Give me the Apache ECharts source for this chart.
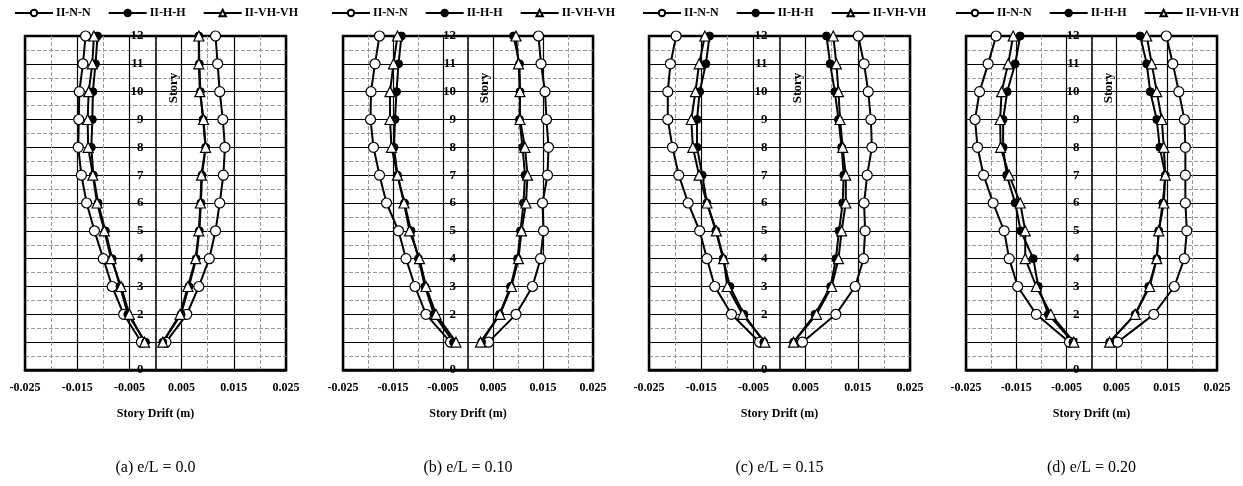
<!DOCTYPE html>
<html>
<head>
<meta charset="utf-8">
<script src="https://cdn.jsdelivr.net/npm/echarts@6/dist/echarts.min.js"></script>
<style>
html, body { margin: 0; padding: 0; background: #fff; }
#main { width: 1243px; height: 486px; }
</style>
</head>
<body>
<div id="main"></div>
<script>
const stories = [1, 2, 3, 4, 5, 6, 7, 8, 9, 10, 11, 12]
const seriesNames = ['II-N-N', 'II-H-H', 'II-VH-VH']
const captions = ['(a) e/L = 0.0', '(b) e/L = 0.10', '(c) e/L = 0.15', '(d) e/L = 0.20']

// (a) e/L = 0.0  -- values listed from story 1 up to story 12
const aNLeft = [-0.0027, -0.0061, -0.0083, -0.0100, -0.0117, -0.0132, -0.0142, -0.0148, -0.0147, -0.0146, -0.0139, -0.0134]
const aNRight = [0.0020, 0.0060, 0.0083, 0.0103, 0.0115, 0.0123, 0.0130, 0.0133, 0.0129, 0.0123, 0.0119, 0.0115]
const aHLeft = [-0.0019, -0.0053, -0.0068, -0.0083, -0.0096, -0.0110, -0.0119, -0.0123, -0.0121, -0.0120, -0.0115, -0.0111]
const aHRight = [0.0014, 0.0049, 0.0064, 0.0078, 0.0084, 0.0087, 0.0089, 0.0096, 0.0091, 0.0086, 0.0084, 0.0083]
const aVLeft = [-0.0021, -0.0050, -0.0066, -0.0085, -0.0098, -0.0112, -0.0120, -0.0129, -0.0130, -0.0128, -0.0121, -0.0118]
const aVRight = [0.0014, 0.0047, 0.0062, 0.0077, 0.0083, 0.0086, 0.0088, 0.0096, 0.0092, 0.0085, 0.0083, 0.0083]

// (b) e/L = 0.10
const bNLeft = [-0.0035, -0.0084, -0.0106, -0.0124, -0.0139, -0.0163, -0.0177, -0.0189, -0.0195, -0.0194, -0.0186, -0.0177]
const bNRight = [0.0041, 0.0096, 0.0129, 0.0145, 0.0151, 0.0149, 0.0159, 0.0161, 0.0157, 0.0154, 0.0146, 0.0141]
const bHLeft = [-0.0029, -0.0068, -0.0086, -0.0099, -0.0114, -0.0127, -0.0141, -0.0148, -0.0146, -0.0143, -0.0139, -0.0133]
const bHRight = [0.0027, 0.0063, 0.0085, 0.0099, 0.0105, 0.0111, 0.0114, 0.0109, 0.0103, 0.0104, 0.0103, 0.0091]
const bVLeft = [-0.0024, -0.0064, -0.0084, -0.0097, -0.0117, -0.0128, -0.0141, -0.0153, -0.0156, -0.0156, -0.0149, -0.0141]
const bVRight = [0.0025, 0.0064, 0.0087, 0.0101, 0.0107, 0.0116, 0.0119, 0.0114, 0.0104, 0.0104, 0.0101, 0.0096]

// (c) e/L = 0.15
const cNLeft = [-0.0038, -0.0092, -0.0124, -0.0139, -0.0153, -0.0175, -0.0193, -0.0205, -0.0214, -0.0214, -0.0209, -0.0198]
const cNRight = [0.0044, 0.0108, 0.0145, 0.0161, 0.0164, 0.0162, 0.0168, 0.0177, 0.0175, 0.0170, 0.0162, 0.0151]
const cHLeft = [-0.0030, -0.0068, -0.0095, -0.0108, -0.0122, -0.0139, -0.0148, -0.0158, -0.0158, -0.0153, -0.0141, -0.0134]
const cHRight = [0.0027, 0.0068, 0.0098, 0.0108, 0.0114, 0.0121, 0.0123, 0.0119, 0.0113, 0.0106, 0.0097, 0.0090]
const cVLeft = [-0.0028, -0.0071, -0.0100, -0.0107, -0.0121, -0.0139, -0.0154, -0.0166, -0.0169, -0.0161, -0.0154, -0.0143]
const cVRight = [0.0027, 0.0071, 0.0100, 0.0113, 0.0119, 0.0127, 0.0127, 0.0121, 0.0116, 0.0113, 0.0109, 0.0103]

// (d) e/L = 0.20
const dNLeft = [-0.0044, -0.0110, -0.0147, -0.0164, -0.0174, -0.0196, -0.0215, -0.0227, -0.0232, -0.0223, -0.0206, -0.0190]
const dNRight = [0.0052, 0.0124, 0.0165, 0.0185, 0.0190, 0.0187, 0.0187, 0.0187, 0.0185, 0.0174, 0.0162, 0.0149]
const dHLeft = [-0.0037, -0.0086, -0.0106, -0.0116, -0.0141, -0.0152, -0.0169, -0.0176, -0.0176, -0.0168, -0.0152, -0.0142]
const dHRight = [0.0036, 0.0087, 0.0114, 0.0130, 0.0134, 0.0142, 0.0147, 0.0136, 0.0130, 0.0117, 0.0110, 0.0097]
const dVLeft = [-0.0035, -0.0081, -0.0110, -0.0132, -0.0132, -0.0142, -0.0164, -0.0181, -0.0182, -0.0179, -0.0166, -0.0156]
const dVRight = [0.0036, 0.0087, 0.0116, 0.0130, 0.0134, 0.0144, 0.0147, 0.0144, 0.0140, 0.0130, 0.0120, 0.0110]

const panels = [
  [[aNLeft, aNRight], [aHLeft, aHRight], [aVLeft, aVRight]],
  [[bNLeft, bNRight], [bHLeft, bHRight], [bVLeft, bVRight]],
  [[cNLeft, cNRight], [cHLeft, cHRight], [cVLeft, cVRight]],
  [[dNLeft, dNRight], [dHLeft, dHRight], [dVLeft, dVRight]]
]

// layout of the four plot boxes (pixels)
const boxes = [
  { left: 25, width: 261, legend: 14 },
  { left: 343, width: 250, legend: 331 },
  { left: 649, width: 261, legend: 642 },
  { left: 966, width: 251, legend: 955 }
]
const boxTop = 36
const boxHeight = 334
const font = 'Liberation Serif'

const markerStyles = [
  { symbol: 'circle', symbolSize: 10, itemStyle: { color: '#fff', borderColor: '#000', borderWidth: 1.2 } },
  { symbol: 'circle', symbolSize: 8, itemStyle: { color: '#000', borderColor: '#000', borderWidth: 1 } },
  { symbol: 'triangle', symbolSize: 10, itemStyle: { color: '#fff', borderColor: '#000', borderWidth: 1.2 } }
]

let grid = []
let xAxis = []
let yAxis = []
let legend = []
let series = []
let graphic = []

boxes.forEach((b, p) => {
  grid.push({
    left: b.left, top: boxTop, width: b.width, height: boxHeight,
    show: true, borderColor: '#000', borderWidth: 2.5, backgroundColor: '#fff'
  })
  xAxis.push({
    gridIndex: p,
    type: 'value',
    min: -0.025,
    max: 0.025,
    interval: 0.01,
    name: 'Story Drift (m)',
    nameLocation: 'middle',
    nameGap: 38,
    nameTextStyle: { fontFamily: font, fontWeight: 'bold', fontSize: 12, color: '#000' },
    axisLine: { onZero: false, lineStyle: { color: '#000', width: 2.5 } },
    axisTick: { show: false },
    axisLabel: {
      fontFamily: font, fontWeight: 'bold', fontSize: 12, color: '#000', margin: 12,
      formatter: v => v.toFixed(3)
    },
    splitLine: { show: true, lineStyle: { color: '#000', width: 1.2 } },
    minorTick: { show: false, splitNumber: 2 },
    minorSplitLine: { show: true, lineStyle: { color: '#9a9a9a', type: 'dashed', width: 1 } }
  })
  // story axis sits on drift = 0, the middle of the symmetric box
  yAxis.push({
    gridIndex: p,
    type: 'value',
    min: 0,
    max: 12,
    interval: 1,
    position: 'left',
    offset: -b.width / 2,
    axisLine: { onZero: false, lineStyle: { color: '#000', width: 1.5 } },
    axisTick: { show: false },
    axisLabel: { fontFamily: font, fontWeight: 'bold', fontSize: 13, color: '#000', margin: 12 },
    splitLine: { show: true, lineStyle: { color: '#000', width: 1.2 } },
    minorTick: { show: false, splitNumber: 2 },
    minorSplitLine: { show: true, lineStyle: { color: '#9a9a9a', type: 'dashed', width: 1 } }
  })
  legend.push({
    left: b.legend,
    top: 7,
    padding: 0,
    itemWidth: 38,
    itemHeight: 8,
    itemGap: 17,
    selectedMode: false,
    data: seriesNames,
    textStyle: { fontFamily: font, fontWeight: 'bold', fontSize: 12, color: '#000', padding: [0, 0, 0, -2] }
  })
  panels[p].forEach((pair, s) => {
    pair.forEach(side => {
      series.push({
        name: seriesNames[s],
        type: 'line',
        xAxisIndex: p,
        yAxisIndex: p,
        data: side.map((v, i) => [v, stories[i]]),
        symbol: markerStyles[s].symbol,
        symbolSize: markerStyles[s].symbolSize,
        itemStyle: markerStyles[s].itemStyle,
        lineStyle: { color: '#000', width: 2 },
        emphasis: { disabled: true }
      })
    })
  })
  // rotated axis title inside the box
  graphic.push({
    type: 'text',
    x: b.left + b.width * 0.568,
    y: boxTop + 52,
    rotation: Math.PI / 2,
    style: {
      text: 'Story', fill: '#000', font: 'bold 13px "' + font + '"',
      align: 'center', verticalAlign: 'middle'
    },
    z: 100
  })
  graphic.push({
    type: 'text',
    x: b.left + b.width / 2,
    y: 468,
    style: {
      text: captions[p], fill: '#000', font: '16px "' + font + '"',
      align: 'center', verticalAlign: 'middle'
    }
  })
})

let myChart = echarts.init(document.getElementById('main'))
myChart.setOption({
  animation: false,
  backgroundColor: '#fff',
  grid: grid,
  xAxis: xAxis,
  yAxis: yAxis,
  legend: legend,
  series: series,
  graphic: graphic
})
</script>
</body>
</html>
